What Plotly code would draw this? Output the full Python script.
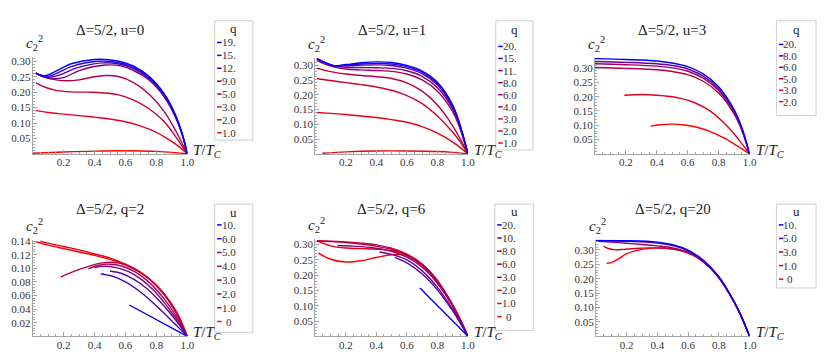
import plotly.graph_objects as go

W, H = 830, 358
SERIF = "Liberation Serif, Times New Roman, serif"
AXIS = "#a6a6a6"

# ---------------- data ----------------
# tick labels
x_ticks = [0.2, 0.4, 0.6, 0.8, 1.0]
x_ticktext = ["0.2", "0.4", "0.6", "0.8", "1.0"]
y_ticks_a = [0.05, 0.10, 0.15, 0.20, 0.25, 0.30]
y_ticktext_a = ["0.05", "0.10", "0.15", "0.20", "0.25", "0.30"]
y_ticks_b = [0.02, 0.04, 0.06, 0.08, 0.10, 0.12, 0.14]
y_ticktext_b = ["0.02", "0.04", "0.06", "0.08", "0.10", "0.12", "0.14"]

# panel 1: Delta=5/2, u=0 ; legend q (top = blue)
p1_title = "Δ=5/2, u=0"
p1_legend = "q"
p1_labels = ["19.", "15.", "12.", "9.0", "5.0", "3.0", "2.0", "1.0"]
p1_x = [
    [0.02, 0.05, 0.08, 0.15, 0.25, 0.40, 0.55, 0.65, 0.75, 0.85, 0.92, 0.97, 1.0],
    [0.02, 0.05, 0.09, 0.15, 0.25, 0.42, 0.55, 0.65, 0.75, 0.85, 0.92, 0.97, 1.0],
    [0.02, 0.06, 0.10, 0.17, 0.28, 0.45, 0.55, 0.65, 0.75, 0.85, 0.92, 0.97, 1.0],
    [0.02, 0.06, 0.12, 0.20, 0.30, 0.47, 0.57, 0.65, 0.75, 0.85, 0.92, 0.97, 1.0],
    [0.02, 0.08, 0.15, 0.22, 0.30, 0.40, 0.48, 0.56, 0.65, 0.75, 0.85, 0.93, 1.0],
    [0.02, 0.08, 0.15, 0.25, 0.35, 0.45, 0.55, 0.65, 0.75, 0.85, 0.93, 1.0],
    [0.02, 0.10, 0.20, 0.30, 0.40, 0.50, 0.60, 0.70, 0.80, 0.90, 0.95, 1.0],
    [0.00, 0.20, 0.40, 0.60, 0.80, 0.90, 1.0],
]
p1_y = [
    [0.262, 0.255, 0.253, 0.268, 0.292, 0.306, 0.301, 0.285, 0.252, 0.195, 0.130, 0.060, 0.0],
    [0.262, 0.254, 0.250, 0.260, 0.283, 0.300, 0.296, 0.281, 0.249, 0.193, 0.128, 0.059, 0.0],
    [0.262, 0.254, 0.248, 0.255, 0.278, 0.295, 0.292, 0.277, 0.245, 0.190, 0.126, 0.058, 0.0],
    [0.262, 0.252, 0.244, 0.247, 0.270, 0.288, 0.285, 0.271, 0.240, 0.185, 0.122, 0.056, 0.0],
    [0.262, 0.248, 0.240, 0.237, 0.240, 0.250, 0.254, 0.250, 0.232, 0.195, 0.138, 0.070, 0.0],
    [0.230, 0.216, 0.206, 0.201, 0.200, 0.198, 0.192, 0.175, 0.147, 0.105, 0.052, 0.0],
    [0.140, 0.134, 0.129, 0.124, 0.119, 0.113, 0.104, 0.090, 0.070, 0.040, 0.022, 0.0],
    [0.002, 0.006, 0.009, 0.010, 0.008, 0.005, 0.0],
]

# panel 2: Delta=5/2, u=1 ; legend q
p2_title = "Δ=5/2, u=1"
p2_legend = "q"
p2_labels = ["20.", "15.", "11.", "8.0", "6.0", "4.0", "3.0", "2.0", "1.0"]
p2_x = [
    [0.01, 0.05, 0.12, 0.2, 0.3, 0.4, 0.5, 0.6, 0.7, 0.8, 0.9, 0.95, 1.0],
    [0.01, 0.05, 0.12, 0.2, 0.3, 0.4, 0.5, 0.6, 0.7, 0.8, 0.9, 0.95, 1.0],
    [0.01, 0.05, 0.12, 0.2, 0.3, 0.4, 0.5, 0.6, 0.7, 0.8, 0.9, 0.95, 1.0],
    [0.01, 0.05, 0.12, 0.2, 0.3, 0.4, 0.5, 0.6, 0.7, 0.8, 0.9, 0.95, 1.0],
    [0.01, 0.05, 0.12, 0.2, 0.3, 0.4, 0.5, 0.6, 0.7, 0.8, 0.9, 0.95, 1.0],
    [0.01, 0.1, 0.2, 0.3, 0.4, 0.5, 0.6, 0.7, 0.8, 0.9, 0.95, 1.0],
    [0.01, 0.1, 0.2, 0.3, 0.4, 0.5, 0.6, 0.7, 0.8, 0.9, 0.95, 1.0],
    [0.01, 0.1, 0.2, 0.3, 0.4, 0.5, 0.6, 0.7, 0.8, 0.9, 0.95, 1.0],
    [0.05, 0.2, 0.4, 0.6, 0.8, 0.9, 1.0],
]
p2_y = [
    [0.322, 0.312, 0.298, 0.302, 0.308, 0.311, 0.309, 0.299, 0.280, 0.242, 0.165, 0.095, 0.0],
    [0.322, 0.312, 0.298, 0.300, 0.304, 0.306, 0.304, 0.295, 0.276, 0.238, 0.162, 0.093, 0.0],
    [0.322, 0.312, 0.298, 0.298, 0.300, 0.301, 0.299, 0.290, 0.271, 0.233, 0.158, 0.091, 0.0],
    [0.321, 0.311, 0.297, 0.293, 0.292, 0.291, 0.289, 0.281, 0.262, 0.224, 0.152, 0.087, 0.0],
    [0.315, 0.306, 0.294, 0.287, 0.284, 0.282, 0.279, 0.270, 0.250, 0.212, 0.143, 0.082, 0.0],
    [0.290, 0.278, 0.270, 0.265, 0.261, 0.255, 0.240, 0.212, 0.165, 0.095, 0.050, 0.0],
    [0.255, 0.248, 0.241, 0.234, 0.226, 0.215, 0.197, 0.170, 0.128, 0.073, 0.040, 0.0],
    [0.140, 0.137, 0.133, 0.128, 0.123, 0.116, 0.107, 0.092, 0.070, 0.040, 0.021, 0.0],
    [0.002, 0.007, 0.010, 0.010, 0.008, 0.005, 0.0],
]

# panel 3: Delta=5/2, u=3 ; legend q
p3_title = "Δ=5/2, u=3"
p3_legend = "q"
p3_labels = ["20.", "8.0", "6.0", "5.0", "3.0", "2.0"]
p3_x = [
    [0.0, 0.2, 0.4, 0.5, 0.6, 0.7, 0.8, 0.9, 0.95, 1.0],
    [0.0, 0.2, 0.4, 0.5, 0.6, 0.7, 0.8, 0.9, 0.95, 1.0],
    [0.0, 0.2, 0.4, 0.5, 0.6, 0.7, 0.8, 0.9, 0.95, 1.0],
    [0.0, 0.2, 0.4, 0.5, 0.6, 0.7, 0.8, 0.9, 0.95, 1.0],
    [0.19, 0.25, 0.35, 0.45, 0.55, 0.65, 0.75, 0.85, 0.93, 1.0],
    [0.36, 0.42, 0.50, 0.58, 0.66, 0.75, 0.84, 0.92, 1.0],
]
p3_y = [
    [0.333, 0.330, 0.325, 0.318, 0.305, 0.280, 0.235, 0.155, 0.092, 0.0],
    [0.323, 0.320, 0.315, 0.309, 0.297, 0.272, 0.228, 0.150, 0.089, 0.0],
    [0.315, 0.312, 0.307, 0.301, 0.289, 0.265, 0.222, 0.146, 0.086, 0.0],
    [0.302, 0.299, 0.294, 0.288, 0.277, 0.254, 0.213, 0.140, 0.082, 0.0],
    [0.205, 0.207, 0.207, 0.203, 0.195, 0.178, 0.148, 0.100, 0.050, 0.0],
    [0.097, 0.102, 0.104, 0.101, 0.093, 0.077, 0.054, 0.028, 0.0],
]

# panel 4: Delta=5/2, q=2 ; legend u
p4_title = "Δ=5/2, q=2"
p4_legend = "u"
p4_labels = ["10.", "6.0", "5.0", "4.0", "3.0", "2.0", "1.0", "0"]
p4_x = [
    [0.625, 1.0],
    [0.44, 0.52, 0.60, 0.68, 0.76, 0.84, 0.92, 1.0],
    [0.50, 0.58, 0.66, 0.74, 0.82, 0.90, 0.95, 1.0],
    [0.40, 0.46, 0.54, 0.62, 0.70, 0.78, 0.86, 0.93, 1.0],
    [0.36, 0.42, 0.50, 0.58, 0.66, 0.75, 0.85, 0.93, 1.0],
    [0.18, 0.25, 0.35, 0.45, 0.55, 0.65, 0.75, 0.85, 0.93, 1.0],
    [0.05, 0.1, 0.2, 0.3, 0.4, 0.5, 0.6, 0.7, 0.8, 0.9, 0.95, 1.0],
    [0.02, 0.1, 0.2, 0.3, 0.4, 0.5, 0.6, 0.7, 0.8, 0.9, 0.95, 1.0],
]
p4_y = [
    [0.046, 0.0],
    [0.092, 0.088, 0.080, 0.068, 0.053, 0.036, 0.018, 0.0],
    [0.096, 0.092, 0.083, 0.070, 0.052, 0.031, 0.016, 0.0],
    [0.101, 0.103, 0.101, 0.095, 0.084, 0.068, 0.047, 0.025, 0.0],
    [0.099, 0.104, 0.106, 0.103, 0.095, 0.080, 0.055, 0.029, 0.0],
    [0.087, 0.094, 0.102, 0.108, 0.108, 0.100, 0.085, 0.061, 0.033, 0.0],
    [0.140, 0.137, 0.132, 0.127, 0.121, 0.115, 0.106, 0.094, 0.075, 0.047, 0.027, 0.0],
    [0.139, 0.134, 0.129, 0.124, 0.119, 0.113, 0.105, 0.093, 0.075, 0.047, 0.027, 0.0],
]

# panel 5: Delta=5/2, q=6 ; legend u
p5_title = "Δ=5/2, q=6"
p5_legend = "u"
p5_labels = ["20.", "10.", "8.0", "6.0", "3.0", "2.0", "1.0", "0"]
p5_x = [
    [0.685, 1.0],
    [0.52, 0.6, 0.7, 0.8, 0.9, 0.95, 1.0],
    [0.42, 0.5, 0.6, 0.7, 0.8, 0.9, 0.95, 1.0],
    [0.145, 0.25, 0.35, 0.45, 0.55, 0.65, 0.75, 0.85, 0.93, 1.0],
    [0.01, 0.1, 0.2, 0.3, 0.4, 0.5, 0.6, 0.7, 0.8, 0.9, 0.95, 1.0],
    [0.01, 0.1, 0.2, 0.3, 0.4, 0.5, 0.6, 0.7, 0.8, 0.9, 0.95, 1.0],
    [0.01, 0.1, 0.2, 0.3, 0.4, 0.5, 0.6, 0.7, 0.8, 0.9, 0.95, 1.0],
    [0.02, 0.1, 0.2, 0.3, 0.4, 0.5, 0.6, 0.7, 0.8, 0.9, 0.95, 1.0],
]
p5_y = [
    [0.158, 0.0],
    [0.258, 0.240, 0.204, 0.152, 0.083, 0.043, 0.0],
    [0.276, 0.268, 0.250, 0.214, 0.160, 0.088, 0.046, 0.0],
    [0.297, 0.295, 0.291, 0.284, 0.270, 0.245, 0.203, 0.138, 0.070, 0.0],
    [0.312, 0.310, 0.307, 0.302, 0.295, 0.284, 0.265, 0.232, 0.178, 0.100, 0.053, 0.0],
    [0.313, 0.311, 0.309, 0.305, 0.299, 0.288, 0.269, 0.236, 0.181, 0.102, 0.054, 0.0],
    [0.312, 0.296, 0.289, 0.287, 0.285, 0.280, 0.266, 0.236, 0.182, 0.103, 0.055, 0.0],
    [0.272, 0.252, 0.243, 0.247, 0.258, 0.267, 0.265, 0.236, 0.182, 0.103, 0.055, 0.0],
]

# panel 6: Delta=5/2, q=20 ; legend u
p6_title = "Δ=5/2, q=20"
p6_legend = "u"
p6_labels = ["10.", "5.0", "3.0", "1.0", "0"]
p6_x = [
    [0.0, 0.2, 0.4, 0.5, 0.6, 0.7, 0.8, 0.9, 0.95, 1.0],
    [0.01, 0.2, 0.4, 0.5, 0.6, 0.7, 0.8, 0.9, 0.95, 1.0],
    [0.02, 0.1, 0.2, 0.3, 0.4, 0.5, 0.6, 0.7, 0.8, 0.9, 0.95, 1.0],
    [0.05, 0.08, 0.12, 0.18, 0.25, 0.35, 0.45, 0.55, 0.65, 0.75, 0.85, 0.93, 1.0],
    [0.07, 0.1, 0.15, 0.2, 0.3, 0.4, 0.5, 0.6, 0.7, 0.8, 0.9, 0.95, 1.0],
]
p6_y = [
    [0.333, 0.332, 0.327, 0.318, 0.299, 0.264, 0.207, 0.120, 0.065, 0.0],
    [0.332, 0.330, 0.324, 0.315, 0.297, 0.262, 0.206, 0.119, 0.065, 0.0],
    [0.330, 0.327, 0.323, 0.319, 0.314, 0.307, 0.292, 0.259, 0.205, 0.119, 0.064, 0.0],
    [0.313, 0.305, 0.301, 0.302, 0.305, 0.307, 0.306, 0.298, 0.277, 0.235, 0.165, 0.090, 0.0],
    [0.254, 0.256, 0.270, 0.287, 0.302, 0.307, 0.303, 0.290, 0.258, 0.203, 0.117, 0.063, 0.0],
]

panels = [
    (p1_title, p1_legend, p1_labels, p1_x, p1_y, y_ticks_a, y_ticktext_a),
    (p2_title, p2_legend, p2_labels, p2_x, p2_y, y_ticks_a, y_ticktext_a),
    (p3_title, p3_legend, p3_labels, p3_x, p3_y, y_ticks_a, y_ticktext_a),
    (p4_title, p4_legend, p4_labels, p4_x, p4_y, y_ticks_b, y_ticktext_b),
    (p5_title, p5_legend, p5_labels, p5_x, p5_y, y_ticks_a, y_ticktext_a),
    (p6_title, p6_legend, p6_labels, p6_x, p6_y, y_ticks_a, y_ticktext_a),
]

# ---------------- layout geometry (pixels) ----------------
# axis: x-pixel of T=0, x-pixel of T=1, y-pixel of 0, pixels per unit, y max
axes_px = [
    (33, 189, 151, 313, 0.315),
    (318, 472, 151, 300, 0.323),
    (600, 756, 151, 290, 0.335),
    (33, 189, 336, 690, 0.142),
    (318, 472, 336, 310, 0.317),
    (601, 756, 336, 292, 0.336),
]
# legend box: left, right, top, bottom, title y, first entry y, last entry y
legend_px = [
    (216.5, 255, 16, 137, 24, 38, 129.5),
    (500, 537.5, 16, 147, 25, 42, 140),
    (783, 823, 16, 112, 25, 40, 98),
    (216.5, 255, 202, 332, 210, 223, 321),
    (499, 538, 202, 330, 209, 223, 316),
    (783, 823, 202, 287, 209, 223, 278),
]
title_y = [25, 25, 25, 207, 207, 207]


def blend(t):
    # t = 0 -> red, t = 1 -> blue
    return "rgb(%d,%d,%d)" % (round(255 * (1 - t)), 0, round(255 * t))


def px_x(v):
    return v / W


def px_y(v):
    return 1 - v / H


fig = go.Figure()
shapes = []
annotations = []

for k, (title, leg, labels, xs, ys, yt, ytt) in enumerate(panels, start=1):
    x0, x1, y0, ppu, ymax = axes_px[k - 1]
    ytop = y0 - ymax * ppu
    n = len(labels)
    vals = [float(s) for s in labels]
    vmin, vmax = min(vals), max(vals)
    # colour position: mix of rank and parameter value
    colors = [blend(0.5 * (1 - i / (n - 1)) + 0.5 * (vals[i] - vmin) / (vmax - vmin))
              for i in range(n)]
    xa = "x" if k == 1 else f"x{k}"
    ya = "y" if k == 1 else f"y{k}"

    # draw red curves first, blue on top
    for i in reversed(range(n)):
        fig.add_trace(go.Scatter(
            x=xs[i], y=ys[i], mode="lines", xaxis=xa, yaxis=ya,
            line=dict(color=colors[i], width=1.4, shape="spline", smoothing=1.0),
            name=f"{leg}={labels[i]}", showlegend=False,
        ))

    axis_common = dict(
        showgrid=False, zeroline=False, showline=True, linecolor=AXIS, linewidth=1,
        ticks="inside", ticklen=4, tickwidth=1, tickcolor=AXIS,
        tickfont=dict(family=SERIF, size=11, color="#333"),
    )
    fig.update_layout(**{
        f"xaxis{'' if k == 1 else k}": dict(
            axis_common, domain=[px_x(x0), px_x(x1)], range=[0, 1.0005],
            anchor=ya, tickmode="array", tickvals=x_ticks, ticktext=x_ticktext,
            ticklabelstandoff=-2,
            minor=dict(ticks="inside", ticklen=2, tickcolor=AXIS, tickmode="linear",
                       tick0=0, dtick=0.05),
        ),
        f"yaxis{'' if k == 1 else k}": dict(
            axis_common, domain=[px_y(y0), px_y(ytop)], range=[0, ymax],
            anchor=xa, tickmode="array", tickvals=yt, ticktext=ytt,
            ticklabelstandoff=-1,
            minor=dict(ticks="inside", ticklen=2, tickcolor=AXIS, tickmode="linear",
                       tick0=0, dtick=(yt[1] - yt[0]) / 5),
        ),
    })

    # panel title
    annotations.append(dict(
        text=title, xref=f"{xa} domain", yref="paper", x=0.5, y=px_y(title_y[k - 1]),
        xanchor="center", yanchor="middle", showarrow=False,
        font=dict(family=SERIF, size=15, color="#222"),
    ))
    # axis labels
    annotations.append(dict(
        text="<i>T</i>/<i>T</i><sub><i>C</i></sub>", xref=f"{xa} domain", yref=f"{ya} domain",
        x=1, y=0, xanchor="left", yanchor="middle", xshift=4, yshift=3, showarrow=False,
        font=dict(family=SERIF, size=15, color="#222"),
    ))
    annotations.append(dict(
        text="<i>c</i><sub>2</sub><sup>2</sup>", xref=f"{xa} domain", yref=f"{ya} domain",
        x=0, y=1, xanchor="left", yanchor="bottom", xshift=-9, yshift=2, showarrow=False,
        font=dict(family=SERIF, size=15, color="#222"),
    ))

    # legend box built from the labels and colours
    bl, br, bt, bb, ty, ey0, ey1 = legend_px[k - 1]
    shapes.append(dict(
        type="rect", xref="paper", yref="paper",
        x0=px_x(bl), x1=px_x(br), y0=px_y(bb), y1=px_y(bt),
        line=dict(color="#cfcfcf", width=1), fillcolor="white", layer="below",
    ))
    annotations.append(dict(
        text=leg, xref="paper", yref="paper", x=px_x((bl + br) / 2), y=px_y(ty),
        xanchor="center", yanchor="middle", showarrow=False,
        font=dict(family=SERIF, size=13, color="#222"),
    ))
    step = (ey1 - ey0) / (n - 1)
    for i in range(n):
        ey = ey0 + i * step
        shapes.append(dict(
            type="line", xref="paper", yref="paper",
            x0=px_x(bl + 2.5), x1=px_x(bl + 7), y0=px_y(ey), y1=px_y(ey),
            line=dict(color=colors[i], width=1.5),
        ))
        annotations.append(dict(
            text=labels[i], xref="paper", yref="paper", x=px_x(bl + 14), y=px_y(ey),
            xanchor="center", yanchor="middle", showarrow=False,
            font=dict(family=SERIF, size=11, color="#333"),
        ))

fig.update_layout(
    width=W, height=H, margin=dict(l=0, r=0, t=0, b=0),
    paper_bgcolor="white", plot_bgcolor="white",
    showlegend=False, shapes=shapes, annotations=annotations,
)

# remove the default page margin so the figure sits at the window's corner
fig.write_html("out.html", config={"displayModeBar": False},
               post_script="document.body.style.margin='0';")
